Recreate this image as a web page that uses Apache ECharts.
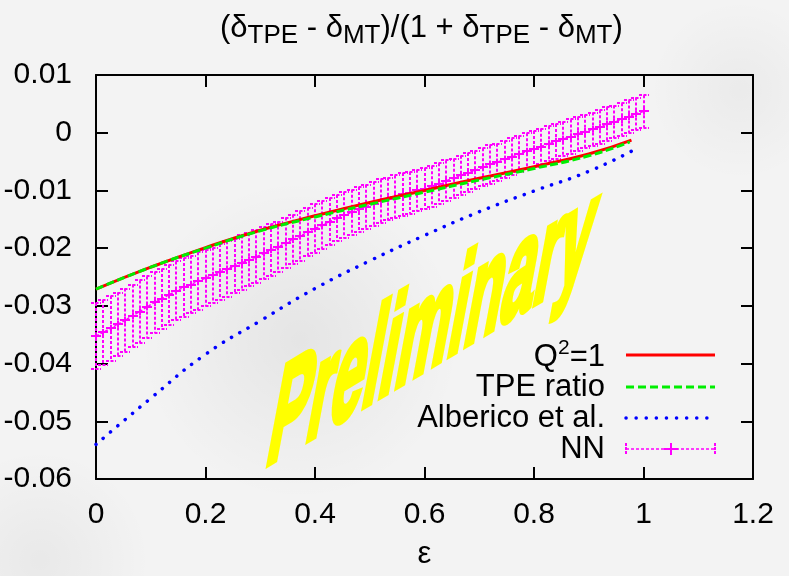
<!DOCTYPE html>
<html>
<head>
<meta charset="utf-8">
<script src="https://cdn.jsdelivr.net/npm/echarts@6/dist/echarts.min.js"></script>
<style>
  html, body { margin: 0; padding: 0; background: #f3f3f3; }
  #chart { width: 789px; height: 576px; }
</style>
</head>
<body>
<div id="chart"></div>
<script>
const FONT = '"Liberation Sans", Arial, Helvetica, sans-serif';

// Axis tick labels
const xTickLabels = ['0', '0.2', '0.4', '0.6', '0.8', '1', '1.2'];
const yTickLabels = ['-0.06', '-0.05', '-0.04', '-0.03', '-0.02', '-0.01', '0', '0.01'];

// Q^2 = 1 curve
const q2Eps = [0, 0.1, 0.2, 0.3, 0.4, 0.5, 0.6, 0.7, 0.8, 0.9, 0.978];
const q2One = [-0.0271, -0.0233, -0.0199, -0.0169, -0.0144, -0.0121, -0.0100, -0.0079, -0.0059, -0.0037, -0.0013];

// TPE ratio curve
const tpeEps = [0, 0.1, 0.2, 0.3, 0.4, 0.5, 0.6, 0.7, 0.8, 0.9, 0.975];
const tpeRatio = [-0.0271, -0.0233, -0.0200, -0.0170, -0.0146, -0.0124, -0.0103, -0.0082, -0.0062, -0.0040, -0.0016];

// Alberico et al. curve
const albEps = [0, 0.1, 0.2, 0.3, 0.4, 0.5, 0.6, 0.7, 0.8, 0.9, 0.978];
const alberico = [-0.0540, -0.0460, -0.0384, -0.0326, -0.0270, -0.0222, -0.0178, -0.0137, -0.0101, -0.0067, -0.0032];

// NN: central values and uncertainties
const nnEps = [0, 0.013, 0.027, 0.04, 0.053, 0.067, 0.08, 0.093, 0.107, 0.12, 0.133, 0.147, 0.16, 0.173, 0.187, 0.2,
  0.213, 0.227, 0.24, 0.253, 0.267, 0.28, 0.293, 0.307, 0.32, 0.333, 0.347, 0.36, 0.373, 0.387, 0.4, 0.413, 0.427, 0.44, 0.453, 0.467, 0.48, 0.493,
  0.507, 0.52, 0.533, 0.547, 0.56, 0.573, 0.587, 0.6, 0.613, 0.627, 0.64, 0.653, 0.667, 0.68, 0.693, 0.707, 0.72, 0.733, 0.747, 0.76, 0.773, 0.787, 0.8,
  0.813, 0.827, 0.84, 0.853, 0.867, 0.88, 0.893, 0.907, 0.92, 0.933, 0.947, 0.96, 0.973, 0.987, 1.0];
const nnMid = [-0.0352, -0.0346, -0.0339, -0.0332, -0.0325, -0.0317, -0.0310, -0.0302, -0.0294, -0.0288, -0.0281, -0.0274, -0.0268, -0.0263, -0.0257, -0.0252,
  -0.0247, -0.0241, -0.0236, -0.0231, -0.0225, -0.0220, -0.0215, -0.0209, -0.0203, -0.0198, -0.0191, -0.0185, -0.0179, -0.0172, -0.0166, -0.0160, -0.0154, -0.0148, -0.0143, -0.0138, -0.0133, -0.0128,
  -0.0123, -0.0119, -0.0115, -0.0111, -0.0107, -0.0104, -0.0100, -0.0097, -0.0093, -0.0088, -0.0083, -0.0079, -0.0074, -0.0069, -0.0065, -0.0060, -0.0055, -0.0051, -0.0046, -0.0042, -0.0037, -0.0032, -0.0028,
  -0.0024, -0.0019, -0.0015, -0.0011, -0.0007, -0.0002, 0.0002, 0.0006, 0.0010, 0.0015, 0.0019, 0.0023, 0.0028, 0.0033, 0.0037];
const nnErr = [0.0057, 0.0056, 0.0056, 0.0055, 0.0055, 0.0054, 0.0054, 0.0053, 0.0053, 0.0052, 0.0052, 0.0051, 0.0051, 0.0050, 0.0050, 0.0049,
  0.0048, 0.0048, 0.0048, 0.0047, 0.0047, 0.0046, 0.0046, 0.0045, 0.0045, 0.0044, 0.0044, 0.0043, 0.0043, 0.0042, 0.0042, 0.0041, 0.0041, 0.0040, 0.0040, 0.0039, 0.0039, 0.0038,
  0.0038, 0.0038, 0.0037, 0.0037, 0.0037, 0.0036, 0.0036, 0.0036, 0.0035, 0.0035, 0.0035, 0.0034, 0.0034, 0.0034, 0.0033, 0.0033, 0.0033, 0.0032, 0.0032, 0.0032, 0.0031, 0.0031, 0.0031,
  0.0031, 0.0030, 0.0030, 0.0030, 0.0030, 0.0029, 0.0029, 0.0029, 0.0029, 0.0029, 0.0028, 0.0028, 0.0028, 0.0028, 0.0028];

const legendNames = ['Q{sup|2}=1', 'TPE ratio', 'Alberico et al.', 'NN'];

const pairs = (xs, ys) => xs.map((x, i) => [x, ys[i]]);

const X_MIN = 0, X_MAX = 1.2, X_STEP = 0.2;
const Y_MIN = -0.06, Y_MAX = 0.01, Y_STEP = 0.01;
const xLabel = v => xTickLabels[Math.round((v - X_MIN) / X_STEP)] ?? '';
const yLabel = v => yTickLabels[Math.round((v - Y_MIN) / Y_STEP)] ?? '';

const MAGENTA = '#ff00ff';
const snap = v => Math.round(v);   // 2px-wide strokes sit on whole pixels

// ---- slanted "Preliminary" stamp: baseline tilted, strokes nearly upright ----
function stampTransform(baseAngleDeg, strokeTiltDeg, stretch) {
  const al = baseAngleDeg * Math.PI / 180, be = strokeTiltDeg * Math.PI / 180;
  const a = Math.cos(al), c = -Math.sin(al);
  const b = -stretch * Math.sin(be), d = stretch * Math.cos(be);
  const E = (a + d) / 2, F = (a - d) / 2, G = (c + b) / 2, H = (c - b) / 2;
  const Q = Math.hypot(E, H), R = Math.hypot(F, G);
  const a1 = Math.atan2(G, F), a2 = Math.atan2(H, E);
  return { sx: Q + R, sy: Q - R, theta: (a2 - a1) / 2, phi: (a2 + a1) / 2 };
}
const ST = stampTransform(31, 10.6, 2.12);
const STAMP_SIZE = 69;

// ---- legend block ----
const LEG_TEXT_X = 605, LEG_X1 = 626, LEG_X2 = 715;
const legRows = [357, 387, 418, 449];
const legendGraphics = [];
legendNames.forEach((name, i) => {
  legendGraphics.push({
    type: 'text', z: 50,
    style: {
      text: name, x: LEG_TEXT_X, y: legRows[i], textAlign: 'right', textVerticalAlign: 'middle',
      font: '31px ' + FONT, fill: '#000',
      rich: { sup: { font: '21px ' + FONT, fill: '#000', padding: [0, 0, 17, 0] } }
    }
  });
});
const nnRow = legRows[3];
legendGraphics.push(
  { type: 'line', z: 50, shape: { x1: LEG_X1, y1: legRows[0] - 2, x2: LEG_X2, y2: legRows[0] - 2 }, style: { stroke: '#ff0000', lineWidth: 3 } },
  { type: 'line', z: 50, shape: { x1: LEG_X1, y1: legRows[1], x2: LEG_X2, y2: legRows[1] }, style: { stroke: '#00ee00', lineWidth: 3, lineDash: [8, 4] } },
  { type: 'line', z: 50, shape: { x1: LEG_X1, y1: legRows[2], x2: LEG_X2 - 5, y2: legRows[2] }, style: { stroke: '#0000ff', lineWidth: 3.5, lineDash: [0.1, 10], lineCap: 'round' } },
  { type: 'line', z: 50, shape: { x1: LEG_X1, y1: nnRow, x2: LEG_X2, y2: nnRow }, style: { stroke: MAGENTA, lineWidth: 1.6, lineDash: [3, 2] } },
  { type: 'line', z: 50, shape: { x1: LEG_X1, y1: nnRow - 6, x2: LEG_X1, y2: nnRow + 6 }, style: { stroke: MAGENTA, lineWidth: 2, lineDash: [3, 1] } },
  { type: 'line', z: 50, shape: { x1: LEG_X2, y1: nnRow - 6, x2: LEG_X2, y2: nnRow + 6 }, style: { stroke: MAGENTA, lineWidth: 2, lineDash: [3, 1] } },
  { type: 'line', z: 50, shape: { x1: 664, y1: nnRow, x2: 678, y2: nnRow }, style: { stroke: MAGENTA, lineWidth: 2 } },
  { type: 'line', z: 50, shape: { x1: 671, y1: nnRow - 6, x2: 671, y2: nnRow + 6 }, style: { stroke: MAGENTA, lineWidth: 2 } }
);

// soft grey shading of the backdrop
const shade = (cx, cy, r, alpha) => ({
  type: 'circle', z: -10, silent: true,
  shape: { cx, cy, r },
  style: {
    fill: new echarts.graphic.RadialGradient(0.5, 0.5, 0.5, [
      { offset: 0, color: 'rgba(0,0,0,' + alpha + ')' },
      { offset: 1, color: 'rgba(0,0,0,0)' }
    ])
  }
});

const chart = echarts.init(document.getElementById('chart'), null, { renderer: 'canvas' });

const axisLineStyle = { color: '#000', width: 2 };
const tickStyle = { show: true, inside: true, length: 12, lineStyle: { color: '#000', width: 2 } };

chart.setOption({
  animation: false,
  backgroundColor: '#f3f3f3',
  title: {
    text: '(δ{s|TPE} - δ{s|MT})/(1 + δ{s|TPE} - δ{s|MT})',
    left: 220, top: 8, padding: 0,
    textStyle: {
      fontFamily: FONT, fontSize: 31, fontWeight: 'normal', color: '#000',
      rich: { s: { fontFamily: FONT, fontSize: 26, color: '#000', padding: [15, 0, 0, 0] } }
    }
  },
  grid: { left: 96, right: 36, top: 75, bottom: 97 },
  xAxis: [
    {
      type: 'value', min: X_MIN, max: X_MAX, interval: X_STEP, position: 'bottom',
      axisLine: { show: true, onZero: false, lineStyle: axisLineStyle },
      axisTick: tickStyle,
      axisLabel: { show: true, formatter: xLabel, fontFamily: FONT, fontSize: 30, color: '#000', margin: 21 },
      splitLine: { show: false },
      name: 'ε', nameLocation: 'middle', nameGap: 60,
      nameTextStyle: { fontFamily: FONT, fontSize: 31, color: '#000' }
    },
    {
      type: 'value', min: X_MIN, max: X_MAX, interval: X_STEP, position: 'top',
      axisLine: { show: true, onZero: false, lineStyle: axisLineStyle },
      axisTick: tickStyle, axisLabel: { show: false }, splitLine: { show: false }
    }
  ],
  yAxis: [
    {
      type: 'value', min: Y_MIN, max: Y_MAX, interval: Y_STEP, position: 'left',
      axisLine: { show: true, onZero: false, lineStyle: axisLineStyle },
      axisTick: tickStyle,
      axisLabel: { show: true, formatter: yLabel, fontFamily: FONT, fontSize: 30, color: '#000', margin: 24 },
      splitLine: { show: false }
    },
    {
      type: 'value', min: Y_MIN, max: Y_MAX, interval: Y_STEP, position: 'right',
      axisLine: { show: true, onZero: false, lineStyle: axisLineStyle },
      axisTick: tickStyle, axisLabel: { show: false }, splitLine: { show: false }
    }
  ],
  series: [
    {
      name: 'NN', type: 'custom', xAxisIndex: 0, yAxisIndex: 0, z: 2,
      data: nnEps.map((e, i) => [e, nnMid[i], nnErr[i]]),
      renderItem: (params, api) => {
        const x = api.value(0), m = api.value(1), err = api.value(2);
        const hi = api.coord([x, m + err]);
        const lo = api.coord([x, m - err]);
        const c = api.coord([x, m]);
        const bx = snap(c[0]);
        const dash = { stroke: MAGENTA, lineWidth: 2, lineDash: [3, 2], fill: null };
        const capStyle = { stroke: MAGENTA, lineWidth: 2, lineDash: [3, 1.5], fill: null };
        const solid = { stroke: MAGENTA, lineWidth: 2, fill: null };
        return {
          type: 'group',
          children: [
            { type: 'line', shape: { x1: bx, y1: hi[1], x2: bx, y2: lo[1] }, style: dash },
            { type: 'line', shape: { x1: bx - 5, y1: snap(hi[1]), x2: bx + 5, y2: snap(hi[1]) }, style: capStyle },
            { type: 'line', shape: { x1: bx - 5, y1: snap(lo[1]), x2: bx + 5, y2: snap(lo[1]) }, style: capStyle },
            { type: 'line', shape: { x1: bx - 5, y1: snap(c[1]), x2: bx + 5, y2: snap(c[1]) }, style: solid },
            { type: 'line', shape: { x1: bx, y1: c[1] - 3.5, x2: bx, y2: c[1] + 3.5 }, style: solid }
          ]
        };
      }
    },
    {
      name: 'NN line', type: 'line', xAxisIndex: 0, yAxisIndex: 0, z: 3,
      data: pairs(nnEps, nnMid), showSymbol: false,
      lineStyle: { color: MAGENTA, width: 1.5, type: [3, 2] }
    },
    {
      name: 'Alberico et al.', type: 'line', xAxisIndex: 0, yAxisIndex: 0, z: 4,
      data: pairs(albEps, alberico), showSymbol: false, smooth: true,
      lineStyle: { color: '#0000ff', width: 3.5, type: [0.1, 9.5], cap: 'round' }
    },
    {
      name: 'Q2=1', type: 'line', xAxisIndex: 0, yAxisIndex: 0, z: 5,
      data: pairs(q2Eps, q2One), showSymbol: false, smooth: true,
      lineStyle: { color: '#ff0000', width: 3 }
    },
    {
      name: 'TPE ratio', type: 'line', xAxisIndex: 0, yAxisIndex: 0, z: 6,
      data: pairs(tpeEps, tpeRatio), showSymbol: false, smooth: true,
      lineStyle: { color: '#00ee00', width: 3, type: [8, 3.5] }
    }
  ],
  graphic: [
    shade(300, 340, 160, 0.06),
    shade(740, 90, 90, 0.035),
    shade(40, 560, 110, 0.045),
    {
      type: 'group', x: 262, y: 476, z: 40,
      rotation: -ST.phi, scaleX: ST.sx, scaleY: ST.sy,
      children: [{
        type: 'text', rotation: -ST.theta, z: 40,
        style: {
          text: 'Preliminary', x: 0, y: -0.34 * STAMP_SIZE,
          textAlign: 'left', textVerticalAlign: 'middle',
          font: 'bold ' + STAMP_SIZE + 'px ' + FONT, fill: '#ffff00',
          stroke: '#ffff00', lineWidth: 3.5, lineJoin: 'round'
        }
      }]
    },
    ...legendGraphics
  ]
});
</script>
</body>
</html>
